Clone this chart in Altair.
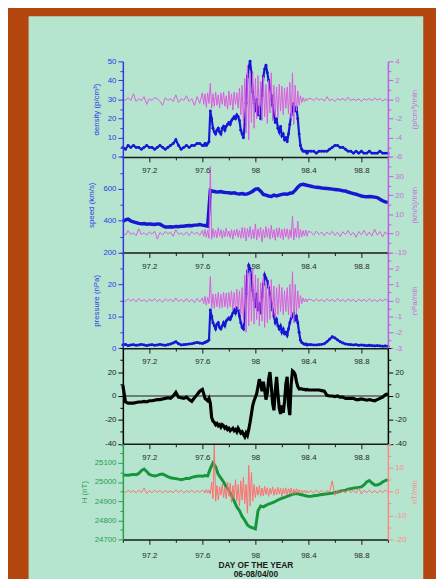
import altair as alt
import pandas as pd


def grid(start, stop, step):
    n = int(round((stop - start) / step)) + 1
    return [round(start + i * step, 2) for i in range(n)]


# time grids (day of year)
DAYS_A = grid(97.00, 99.00, 0.02)
DAYS_B = grid(97.00, 97.60, 0.02) + grid(97.61, 98.40, 0.01) + grid(98.42, 99.00, 0.02)

# ---- panel 1: density (p/cm3) and its rate ----
DENSITY = [5, 4, 6, 5, 6, 5, 5, 4, 5, 6, 5, 5, 4, 5, 6, 5, 4, 5, 6, 7, 9, 6, 4, 5, 6, 5, 6, 6, 7, 7, 6,
           6, 7, 6, 7, 8, 24, 20, 15, 13, 12,
           14, 15, 13, 12, 15, 16, 14, 16, 17, 18,
           17, 19, 20, 21, 20, 22, 21, 19, 14, 12,
           10, 17, 28, 42, 47, 50, 44, 34, 28, 24,
           30, 22, 26, 20, 32, 42, 46, 48, 44, 40,
           36, 32, 27, 22, 18, 20, 15, 13, 16, 11,
           12, 9, 10, 8, 12, 17, 22, 25, 28, 24,
           26, 20, 12, 6, 4, 3, 3, 3, 2, 3,
           3, 3, 2, 3, 3, 3, 3, 4, 5, 6, 6, 5, 5, 4, 3, 3, 2, 3, 2, 3, 2, 2, 3, 2, 2, 2, 3, 2, 2, 2]
DENS_RATE = [0.1, -0.1, 0.2, -0.1, 0.6, -0.2, 0.1, -0.1, 0.3, -0.5, 0.1, -0.1, 0.2, 0.1, -0.2, -0.6,
             0.2, -0.1, 0.1, -0.2, 0.5, -0.3, 0.1, -0.1, 0.4, -0.2, 0.1, -0.6, 0.3, -0.4, 0.7,
             -0.5, 0.6, -0.8, 0.7, -0.4, 1.7, -0.9, 0.6, -0.7, 0.8,
             -0.6, 0.5, -0.9, 0.7, -0.5, 0.8, -0.7, 0.4, -1.0, 0.9,
             -0.6, 0.6, -1.1, 0.8, -0.5, 0.7, -0.9, 1.2, -1.6, 1.5,
             -2.6, 2.2, -3.5, 3.6, -4.2, 3.0, -2.4, 2.8, -3.0, 2.2,
             -2.0, 2.5, -1.6, 1.9, -2.2, 2.4, -1.8, 1.6, -2.5, 2.0,
             -1.4, 2.8, -2.2, 1.5, -1.7, 1.3, -1.9, 1.6, -1.2, 1.4,
             -1.6, 1.2, -0.9, 1.3, -1.5, 1.8, -2.0, 2.8, -2.6, 1.5,
             -1.2, 0.9, -0.6, 0.4, -0.3, 0.2, -0.2, 0.1, -0.1, 0.1,
             0.1, -0.1, 0.15, -0.05, 0.1, -0.15, 0.3, -0.1, 0.05, -0.2, 0.1, -0.05, 0.1, -0.1, 0.25,
             -0.1, 0.05, -0.1, 0.1, -0.2, 0.1, -0.05, 0.1, -0.1, 0.15, -0.05, 0.1, -0.15, 0.05, -0.1]

# ---- panel 2: speed (km/s) and its rate ----
SPEED = [395, 405, 410, 398, 392, 388, 383, 380, 382, 378,
         380, 378, 376, 380, 378, 368, 360, 360, 362, 360,
         364, 362, 366, 365, 368, 370, 368, 372, 372, 376,
         372, 370, 366, 590, 585, 582, 580, 583, 578, 576,
         575, 572, 575, 570, 568, 570, 566, 568, 575, 585,
         598, 600, 585, 565, 560, 555, 552, 560, 555, 560,
         565, 568, 566, 572, 575, 590, 610, 625, 628, 624,
         620, 616, 612, 610, 608, 605, 604, 602, 600, 598,
         596, 594, 592, 588, 586, 580, 575, 570, 566, 560,
         555, 552, 550, 552, 550, 548, 545, 535, 525, 518,
         515]
SPEED_RATE = [0.5, -0.8, 1.5, -0.5, 0.3, -1.2, 2.5, -0.6, 0.4, -1.0, 0.8, -0.4, 1.2, -3.0, 0.5, -0.8,
              1.0, -0.3, 0.6, -1.5, 2.0, -0.5, 0.3, -0.9, 0.8, -1.2, 1.0, -0.4, 0.6, -1.0, 1.5,
              -1.5, 2.0, -2.0, 1.5, -2.5, 35, -3.0, 2.5, -2.0, 1.6,
              -2.4, 3.0, -1.5, 2.0, -2.6, 1.5, -1.8, 2.8, -1.5, 1.2,
              -2.2, 2.0, -3.0, 1.8, -1.3, 2.4, -2.0, 1.5, -2.5, 3.2,
              -2.2, 3.0, -4.0, 2.6, -2.0, 3.6, -3.0, 2.2, -2.6, 5.0,
              -3.5, 2.4, -2.0, 3.2, -4.5, 2.0, -2.4, 3.6, -2.0, 2.6,
              -3.0, 4.2, -2.2, 2.0, -3.6, 2.8, -2.0, 3.0, -2.4, 2.2,
              -3.2, 2.6, -1.8, 2.4, -3.0, 2.0, -2.2, 9.0, -3.5, 2.8,
              -2.0, 6.5, -2.5, 2.0, -1.8, 1.5, -1.2, 1.8, -1.5, 1.2,
              0.6, -0.9, 1.2, -0.6, 0.8, -1.2, 0.7, -0.7, 1.1, -1.0, 0.6, -1.6, 0.9, -0.6, 1.5,
              -0.9, 0.6, -2.0, 1.0, -0.7, 1.6, -1.1, 0.7, -1.3, 2.2, -0.9, 1.0, -1.8, 0.8, -0.7]

# ---- panel 3: pressure (nPa) and its rate ----
PRESSURE = [1.0, 1.2, 0.8, 1.0, 1.1, 0.9, 1.0, 1.2, 1.0, 0.8, 1.0, 1.1, 0.9, 1.0, 1.2, 1.0, 0.9, 1.1,
            1.3, 1.6, 2.0, 1.4, 1.0, 1.1, 1.2, 1.3, 1.4, 1.6, 1.8, 1.6, 1.5,
            1.6, 1.8, 2.0, 2.2, 2.6, 12, 10, 8, 7, 6,
            7.5, 8, 6.5, 6, 7, 8, 7, 8.5, 9, 9.5,
            9, 10, 11, 12, 11, 12.5, 12, 10, 8, 6.5,
            6, 10, 17, 24, 26, 25, 22, 18, 15, 13,
            17, 12, 14, 11, 16, 20, 23, 22, 21, 19,
            17, 14, 12, 10, 8, 9, 7, 6, 7, 5,
            6, 4.5, 5, 4, 6, 8, 9.5, 10, 11, 9,
            10, 8, 5, 2.5, 1.8, 1.5, 1.2, 1.3, 1.0, 1.1,
            1.1, 1.0, 1.0, 1.1, 1.2, 1.4, 2.0, 2.8, 3.6, 3.2, 2.6, 2.0, 1.6, 1.3, 1.2,
            1.1, 1.0, 1.1, 0.9, 1.0, 0.9, 0.8, 0.9, 0.8, 0.7, 0.8, 0.7, 0.6, 0.7, 0.6]
PRESS_RATE = [0.05, -0.08, 0.1, -0.05, 0.08, -0.1, 0.12, -0.06, 0.05, -0.1, 0.08, -0.05, 0.1, -0.08,
              0.06, -0.12, 0.1, -0.05, 0.08, -0.1, 0.15, -0.08, 0.06, -0.1, 0.12, -0.1, 0.08, -0.15,
              0.12, -0.1, 0.15,
              -0.2, 0.25, -0.3, 0.2, -0.2, 1.5, -0.5, 0.4, -0.5, 0.4,
              -0.4, 0.5, -0.5, 0.4, -0.45, 0.5, -0.4, 0.45, -0.5, 0.5,
              -0.4, 0.6, -0.6, 0.5, -0.5, 0.7, -0.6, 0.6, -0.9, 0.8,
              -1.4, 1.6, -2.0, 2.1, -1.6, 1.8, -1.3, 2.0, -1.5, 1.6,
              -1.2, 1.4, -1.6, 1.1, -1.3, 1.5, -1.7, 1.2, -1.4, 1.0,
              -1.2, 1.3, -1.0, 0.9, -1.1, 0.8, -0.9, 1.0, -0.7, 0.8,
              -0.9, 0.6, -0.7, 0.8, -0.9, 1.0, -1.1, 1.8, -1.4, 1.0,
              -0.8, 0.6, -0.5, 0.3, -0.2, 0.15, -0.1, 0.1, -0.1, 0.08,
              0.05, -0.06, 0.08, -0.05, 0.06, -0.08, 0.1, -0.05, 0.06, -0.08, 0.12, -0.06, 0.05,
              -0.08, 0.1, -0.05, 0.06, -0.1, 0.08, -0.05, 0.06, -0.08, 0.1, -0.06, 0.05, -0.08,
              0.06, -0.05, 0.08, -0.06]

# ---- panel 4: field component (black) ----
BZ = [9, -5, -6, -6, -6, -5.5, -5, -5, -4.5, -5, -4, -4, -3.5, -3, -3, -2.5, -2, -1.5, -2, 0,
      3, -1, -1.5, -2, -1, -3, -4.5, -1.5, 1, 4, 5.5,
      2, -2, -3, -4, -2, -6, -18, -21, -22, -24,
      -23, -25, -24, -26, -24, -25, -27, -26, -28, -27,
      -29, -28, -27, -29, -28, -30, -27, -29, -31, -30,
      -32, -34, -31, -33, -28, -22, -15, -8, -4, -1,
      2, 8, 14, 10, 4, 12, 5, -3, 2, 14,
      20, 8, -6, -12, 4, 16, 2, -10, -15, -8,
      -14, -5, 10, 16, -8, -16, 10, 21, 20, 18,
      12, 8, 6, 6, 6, 5.5, 5.5, 5, 5.5, 5,
      5, 5, 5, 5, 4.5, 4, 0.5, 0, 0, -0.5, 0, -1, -1, -2, -2, -2, -2, -3, -3, -2.5,
      -3, -3.5, -3, -3.5, -4, -3, -2, -1, 1, 2]

# ---- panel 5: H (nT) and its rate ----
H_FIELD = [25038, 25036, 25035, 25038, 25040, 25038, 25045, 25060, 25068, 25055,
           25040, 25035, 25032, 25035, 25040, 25042, 25035, 25028, 25022, 25020,
           25018, 25015, 25012, 25015, 25020, 25018, 25024, 25028, 25030, 25032,
           25030, 25034, 25032, 25070, 25100, 25080, 25040, 25020, 25000, 24975,
           24958, 24930, 24900, 24870, 24850, 24820, 24800, 24775, 24765, 24760,
           24755, 24850, 24875, 24870, 24878, 24885, 24890, 24895, 24902, 24910,
           24915, 24920, 24925, 24930, 24935, 24940, 24938, 24935, 24932, 24928,
           24925, 24925, 24928, 24930, 24932, 24935, 24936, 24938, 24940, 24942,
           24945, 24948, 24952, 24955, 24958, 24962, 24965, 24968, 24970, 24972,
           24975, 24985, 25000, 25008, 24995, 24985, 24985, 24990, 25000, 25008,
           25012]
H_RATE = [0.3, -0.4, 0.5, -0.3, 0.4, -0.5, 0.6, -0.4, 1.5, -0.8, 0.4, -0.5, 0.6, -0.3, 0.4, -0.6,
          0.5, -0.4, 0.3, -0.5, 0.7, -0.4, 0.5, -0.6, 0.4, -0.3, 0.6, -0.5, 0.4, -0.3, 0.5,
          0.5, -0.6, 0.8, -0.5, 0.6, -1.0, 4.0, -3.0, 20, -4.0,
          2.5, -3.5, 2.0, -1.5, 3.0, -2.5, 1.8, -3.0, 4.0, -2.0,
          3.5, -4.5, 2.5, -3.0, 5.0, -4.0, 3.0, -6.0, 4.5, -3.5,
          6.0, -5.0, 3.0, -9.0, 11.0, -6.0, 8.0, -4.0, 3.0, -2.5,
          2.0, -1.5, 2.5, -2.0, 1.5, -1.8, 2.2, -1.2, 1.6, -2.0,
          1.4, -1.0, 2.0, -1.6, 1.2, -1.4, 1.8, -1.0, 1.5, -2.2,
          1.3, -1.0, 1.6, -1.4, 1.2, -0.8, 1.5, -1.2, 1.0, -0.8,
          1.2, -0.6, 0.8, -0.5, 0.6, -0.4, 0.5, -0.6, 0.4, -0.5,
          0.4, -0.5, 0.6, -0.4, 0.5, -0.6, 0.4, -0.3, 4.5, -1.5, 0.6, -0.5, 0.4, -0.6, 0.8,
          -0.4, 0.5, -0.6, 1.5, -1.0, 0.5, -0.4, 0.6, -0.5, 0.4, -0.6, 0.5, -0.4, 0.6, -0.3]

# ---- axis ticks / labels ----
X_TICKS = [97.0, 97.2, 97.4, 97.6, 97.8, 98.0, 98.2, 98.4, 98.6, 98.8, 99.0]
X_LABELS = [97.2, 97.6, 98.0, 98.4, 98.8]

# ---- styling ----
ORANGE = "#b4460f"
MINT = "#b5e4cf"
BLUE = "#1616d4"
BLUE_AX = "#3535e6"
MAG = "#dc5ce0"
MAG_AX = "#c45ae6"
MAG_LBL = "#c66fdc"
GREEN = "#16963a"
GREEN_AX = "#2a9e4e"
SALMON = "#ff6e6e"
SALMON_AX = "#ff8888"
FONT = "Liberation Sans"

W = 270
PH = 97.4
H = 5 * PH


def yr(i):
    return [round(PH * (i + 1), 1), round(PH * i, 1)]


def xscale():
    return alt.Scale(domain=[97, 99], nice=False, zero=False)


def x_axis(offset, title=None, lpad=5):
    test = f"indexof({X_LABELS}, datum.value) >= 0"
    props = dict(
        orient="bottom", offset=offset, values=X_TICKS,
        labelExpr=f"{test} ? (datum.value == 98 ? '98' : format(datum.value, '.1f')) : ''",
        tickSize={"condition": {"test": test, "value": 5}, "value": 3},
        domainColor="#1a1a1a", tickColor="#1a1a1a", domainWidth=1.5, tickWidth=1,
        labelColor="#2a2a2a", labelFontSize=8, labelFont=FONT, labelPadding=lpad,
        labelFlush=False, labelOverlap=False, grid=False, zindex=1, title=title,
    )
    if title is not None:
        props.update(titleFontSize=8.5, titleFontWeight="bold", titleColor="#1a1a1a",
                     titlePadding=2, titleLineHeight=9, titleFont=FONT)
    return alt.Axis(**props)


def y_axis(orient, values, labels, color, lcolor, title=None, tx=None):
    test = f"indexof({labels}, datum.value) >= 0"
    props = dict(
        orient=orient, values=values,
        labelExpr=f"{test} ? toString(datum.value) : ''",
        tickSize={"condition": {"test": test, "value": 5}, "value": 3},
        domainColor=color, tickColor=color, domainWidth=1.5, tickWidth=1,
        labelColor=lcolor, labelFontSize=8, labelFont=FONT, labelPadding=2,
        labelFlush=False, labelOverlap=False, grid=False, zindex=1, title=title,
    )
    if title is not None:
        props.update(titleColor=lcolor, titleFontSize=8, titleFontWeight="normal", titleFont=FONT,
                     titleX=tx, titleAngle=270, titleAlign="center", titleBaseline="middle")
    return alt.Axis(**props)


def layer(days, vals, panel, domain, kind, style, yax=None, xax=None):
    df = pd.DataFrame({"day": days, "v": vals})
    ysc = alt.Scale(domain=domain, range=yr(panel), nice=False, zero=False)
    base = alt.Chart(df)
    m = base.mark_line(**style) if kind == "line" else base.mark_circle(**style)
    return m.encode(
        x=alt.X("day:Q", scale=xscale(), axis=xax),
        y=alt.Y("v:Q", scale=ysc, axis=yax),
    )


layers = []

# mint panel
layers.append(
    alt.Chart(pd.DataFrame({"a": [0]})).mark_rect(color=MINT).encode(
        x=alt.value(-96), x2=alt.value(306), y=alt.value(-46), y2=alt.value(540)
    )
)

# panel 1 : density
layers.append(layer(DAYS_B, DENSITY, 0, [0, 50], "line", dict(color=BLUE, strokeWidth=2.2),
                    yax=y_axis("left", list(range(0, 55, 5)), [0, 10, 20, 30, 40, 50], BLUE_AX, BLUE_AX,
                               "density (p/cm³)", -27),
                    xax=x_axis(-(H - PH))))
layers.append(layer(DAYS_B, DENSITY, 0, [0, 50], "circle", dict(color=BLUE, size=9, opacity=1)))
layers.append(layer(DAYS_B, DENS_RATE, 0, [-6, 4], "line", dict(color=MAG, strokeWidth=1),
                    yax=y_axis("right", list(range(-6, 5)), [-6, -4, -2, 0, 2, 4], MAG_AX, MAG_LBL,
                               "(p/cm³)/min", 27)))

# panel 2 : speed
layers.append(layer(DAYS_A, SPEED, 1, [200, 800], "line", dict(color=BLUE, strokeWidth=3.5),
                    yax=y_axis("left", list(range(200, 900, 100)), [200, 400, 600], BLUE_AX, BLUE_AX,
                               "speed (km/s)", -32),
                    xax=x_axis(-(H - 2 * PH))))
layers.append(layer(DAYS_B, SPEED_RATE, 1, [-10, 40], "line", dict(color=MAG, strokeWidth=1),
                    yax=y_axis("right", list(range(-10, 45, 5)), [-10, 0, 10, 20, 30], MAG_AX, MAG_LBL,
                               "(km/s)/min", 27)))

# panel 3 : pressure
layers.append(layer(DAYS_B, PRESSURE, 2, [0, 30], "line", dict(color=BLUE, strokeWidth=2.2),
                    yax=y_axis("left", list(range(0, 35, 5)), [0, 10, 20], BLUE_AX, BLUE_AX,
                               "pressure (nPa)", -27),
                    xax=x_axis(-(H - 3 * PH))))
layers.append(layer(DAYS_B, PRESSURE, 2, [0, 30], "circle", dict(color=BLUE, size=9, opacity=1)))
layers.append(layer(DAYS_B, PRESS_RATE, 2, [-3, 3], "line", dict(color=MAG, strokeWidth=1),
                    yax=y_axis("right", [-3, -2.5, -2, -1.5, -1, -0.5, 0, 0.5, 1, 1.5, 2, 2.5, 3],
                               [-3, -2, -1, 0, 1, 2], MAG_AX, MAG_LBL, "nPa/min", 27)))

# panel 4 : black component with zero line
layers.append(
    alt.Chart(pd.DataFrame({"z": [0]})).mark_rule(color="#5a5a5a", strokeWidth=1.5).encode(
        x=alt.value(0), x2=alt.value(W),
        y=alt.Y("z:Q", scale=alt.Scale(domain=[-40, 40], range=yr(3), nice=False, zero=False), axis=None),
    )
)
layers.append(layer(DAYS_B, BZ, 3, [-40, 40], "line", dict(color="#000000", strokeWidth=3.2),
                    yax=y_axis("left", list(range(-40, 50, 10)), [-40, -20, 0, 20], "#000000", "#1a1a1a"),
                    xax=x_axis(-(H - 4 * PH))))
layers.append(layer(DAYS_B, BZ, 3, [-40, 40], "line", dict(color="#000000", strokeWidth=0.1),
                    yax=y_axis("right", list(range(-40, 50, 10)), [-40, -20, 0, 20], "#000000", "#1a1a1a")))

# panel 5 : H
layers.append(layer(DAYS_A, H_FIELD, 4, [24700, 25200], "line", dict(color=GREEN, strokeWidth=3),
                    yax=y_axis("left", list(range(24700, 25250, 50)), [24700, 24800, 24900, 25000, 25100],
                               GREEN_AX, GREEN_AX, "H (nT)", -39),
                    xax=x_axis(0, ["DAY OF THE YEAR", "06-08/04/00"], lpad=7)))
layers.append(layer(DAYS_B, H_RATE, 4, [-20, 20], "line", dict(color=SALMON, strokeWidth=1),
                    yax=y_axis("right", list(range(-20, 25, 5)), [-20, -10, 0, 10], SALMON_AX, SALMON_AX,
                               "nT/min", 27)))

chart = (
    alt.layer(*layers)
    .resolve_scale(x="independent", y="independent")
    .properties(
        width=W, height=H,
        autosize=alt.AutoSizeParams(type="none"),
        padding={"left": 117, "top": 49, "right": 49, "bottom": 35},
        background=ORANGE,
    )
    .configure_view(strokeOpacity=0)
    .configure(font=FONT)
)

chart.save("out.html", embed_options={"renderer": "svg", "actions": False})
